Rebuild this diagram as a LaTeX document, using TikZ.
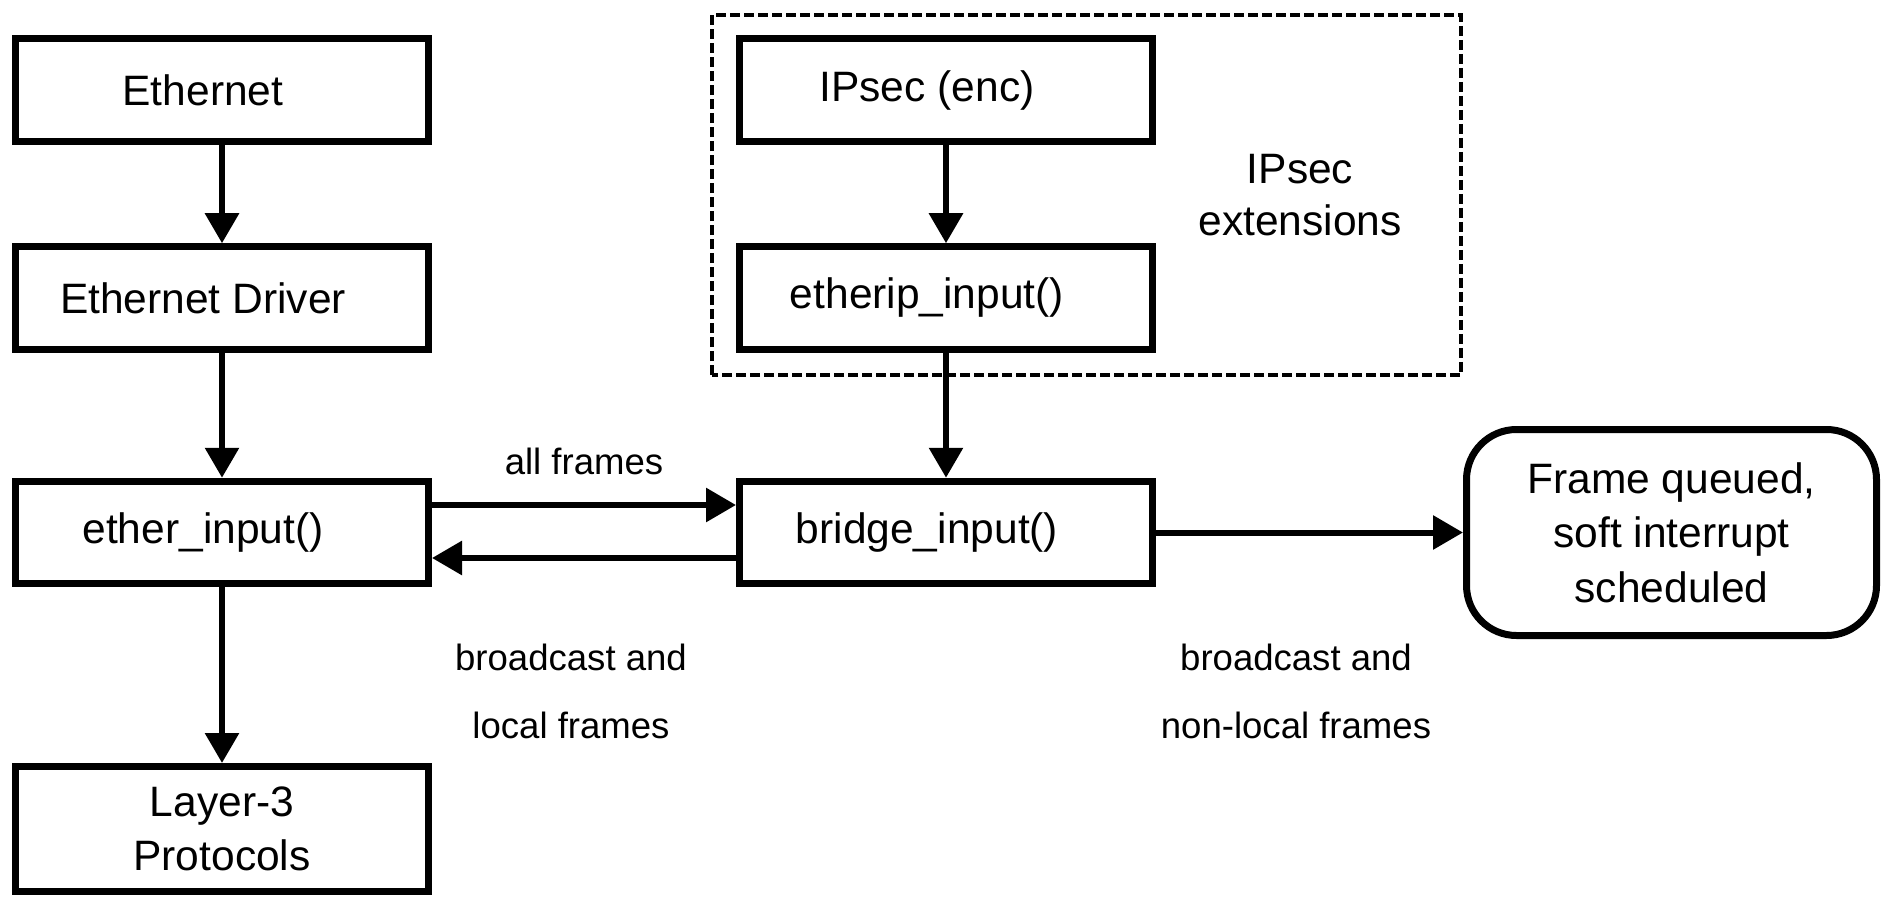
\documentclass[tikz,border=0pt]{standalone}
\usepackage{fontspec}
\setmainfont{Liberation Sans}
\usetikzlibrary{arrows.meta}

\begin{document}
\begin{tikzpicture}[>={Triangle[length=0.6cm,width=0.66cm]},
	box/.style={draw, line width=0.14cm, minimum width=8.26cm, minimum height=2.05cm, inner sep=0pt, align=center, font=\fontsize{24.2}{31}\selectfont},
	sbox/.style={box, execute at end node={\hspace{0.76cm}}},
	flow/.style={->, line width=0.12cm},
	lbl/.style={align=center, inner sep=0pt, font=\fontsize{20.8}{38.7}\selectfont}]
%	\draw [help lines] (0,0) grid (37,17);
	\useasboundingbox (0,0) rectangle (37.7,17.94);
	% left column
	\node [sbox] (eth) at (4.44,16.14) {Ethernet};
	\node [sbox] (drv) at (4.44,11.98) {Ethernet Driver};
	\node [sbox] (ein) at (4.44,7.29) {ether\_input()};
	\node [box, minimum height=2.5cm] (lay) at (4.44,1.36) {Layer-3\\Protocols};
	% IPsec part
	\draw [line width=0.09cm, dash pattern=on 0.2cm off 0.08cm] (14.24,10.44) rectangle (29.22,17.64);
	\node [sbox] (enc) at (18.92,16.14) {IPsec (enc)};
	\node [sbox] (eip) at (18.92,11.98) {etherip\_input()};
	\node [align=center, inner sep=0pt, font=\fontsize{24.2}{29.6}\selectfont] (ext) at (26.0,14.04) {IPsec\\extensions};
	\node [sbox] (brg) at (18.92,7.29) {bridge\_input()};
	\node [box, rounded corners=1cm, minimum width=8.2cm, minimum height=4.12cm] (frq) at (33.43,7.29) {Frame queued,\\soft interrupt\\scheduled};
	% connectors
	\draw [flow] (eth) -- (drv);
	\draw [flow] (drv) -- (ein);
	\draw [flow] (ein) -- (lay);
	\draw [flow] (enc) -- (eip);
	\draw [flow] (eip) -- (brg);
	\draw [flow] ([yshift=0.55cm]ein.east) -- ([yshift=0.55cm]brg.west) node [pos=0.5, above=0.55cm, lbl] (all) {all frames};
	\draw [flow] ([yshift=-0.51cm]brg.west) -- ([yshift=-0.51cm]ein.east);
	\draw [flow] (brg) -- (frq);
	\node [lbl] (loc) at (11.42,4.12) {broadcast and\\local frames};
	\node [lbl] (nloc) at (25.92,4.12) {broadcast and\\non-local frames};
\end{tikzpicture}
\end{document}
